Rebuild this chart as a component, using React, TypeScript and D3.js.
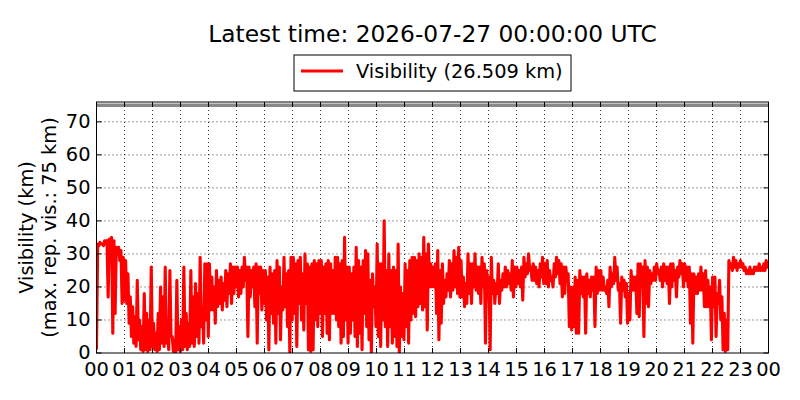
import * as d3 from 'd3';

// ── Data (5-min slots as [high, low] pairs) ──
const titleText = 'Latest time: 2026-07-27 00:00:00 UTC';
const legendText = 'Visibility (26.509 km)';
const yLabelLines = ['Visibility (km)', '(max. rep. vis.: 75 km)'];
const hourLabels = ['00','01','02','03','04','05','06','07','08','09','10','11','12',
  '13','14','15','16','17','18','19','20','21','22','23','00'];
const yTicks = [0, 10, 20, 30, 40, 50, 60, 70];
const maxReportedVis = 75;
const firstValue = 1;
const lastValue = 26.509;

const visibility: number[] = [
  // 00
  33,32.5, 33.5,33, 33,32.5, 34,33, 34,17, 34.5,33.5, 35,6, 34,12, 32,31, 32,28, 31,15, 29,16,
  // 01
  28,15, 24,9, 17,5, 14,3, 11,2, 22,4, 10,1, 8,0.5, 18,1, 12,0.5, 10,1, 26,2,
  // 02
  9,1, 6,0.5, 12,1, 20,3, 17,2, 26,3, 10,1, 25,5, 5,0.5, 4,0, 22,1, 8,0.5,
  // 03
  10,1, 26,2, 12,1, 9,2, 25,3, 17,2, 21,5, 18,3, 29,8, 14,3, 27,10, 27,5,
  // 04
  27,13, 23,13, 20,9, 25,14, 22,15, 23,13, 21,16, 25,14, 24,18, 27,15, 26,18, 26,20,
  // 05
  26,17, 25,18, 26,20, 29,22, 26,5, 26,17, 25,20, 26,14, 27,3, 26,18, 26,13, 25,15,
  // 06
  25,10, 23,1, 26,12, 24,9, 25,3, 28,12, 26,4, 20,13, 29,14, 24,8, 25,0, 29,10,
  // 07
  29,12, 27,2, 28,15, 29,10, 24,7, 30,15, 27,1, 26,0.5, 27,1, 28,10, 27,8, 28,12,
  // 08
  28,5, 26,12, 27,6, 28,4, 27,12, 25,12, 29,10, 29,8, 27,3, 28,5, 35,10, 26,3,
  // 09
  26,6, 24,10, 26,5, 32,2, 28,6, 26,1, 28,12, 31,8, 30,4, 22,0, 24,14, 20,8,
  // 10
  33,5, 27,2, 27,10, 40,8, 25,2, 30,8, 25,3, 26,5, 25,2, 33,0, 20,5, 18,4,
  // 11
  27,8, 25,3, 28,10, 29,12, 29,11, 28,14, 30,15, 29,13, 35,14, 30,7, 33,20, 27,20,
  // 12
  26,20, 27,12, 31,4, 25,9, 27,15, 22,17, 24,19, 28,17, 27,19, 31,20, 29,18, 32,17,
  // 13
  28,17, 23,14, 21,15, 30,18, 27,15, 27,20, 30,19, 26,18, 26,15, 29,20, 27,3, 25,17,
  // 14
  23,1, 29,18, 22,15, 21,18, 27,15, 22,19, 24,20, 26,20, 25,21, 24,19, 28,17, 26,20,
  // 15
  26,21, 25,20, 26,16, 29,23, 27,24, 30,25, 26,22, 27,22, 26,21, 25,20, 27,23, 29,21,
  // 16
  27,21, 28,20, 25,22, 23,20, 27,23, 29,24, 28,21, 27,17, 26,18, 26,22, 24,8, 20,7,
  // 17
  20,8, 23,6, 22,6, 25,18, 23,17, 23,6, 24,18, 22,17, 23,19, 23,8, 26,18, 25,19,
  // 18
  25,19, 23,19, 20,18, 22,14, 26,20, 24,21, 29,22, 26,19, 21,9, 23,19, 22,17, 21,9,
  // 19
  18,10, 25,19, 23,19, 23,12, 27,11, 27,20, 26,5, 28,15, 26,14, 25,21, 24,22, 26,22,
  // 20
  27,24, 25,22, 26,20, 27,22, 26,21, 26,15, 27,20, 27,22, 25,17, 26,23, 28,24, 27,20,
  // 21
  27,22, 26,20, 26,9, 24,3, 24,18, 23,18, 24,19, 26,19, 24,14, 25,14, 22,14, 20,4,
  // 22
  23,14, 23,5, 18,15, 22,10, 17,1, 12,0.5, 10,1, 28,26, 27,25, 29,26, 28,25, 27,26,
  // 23
  28,26, 27,25, 26,24, 25,24, 26,24, 25,24, 26,25, 26,25, 27,25, 26,25, 27,25, 28,26,
];

const series = [firstValue, ...visibility, lastValue];

// ── Layout ──
const W = 800;
const H = 400;
const margin = { top: 102, right: 31.5, bottom: 47, left: 96.5 };
const iw = W - margin.left - margin.right;
const ih = H - margin.top - margin.bottom;
const FONT = '"DejaVu Sans", sans-serif';

export default function App() {
  const x = d3.scaleLinear().domain([0, 24]).range([0, iw]);
  const y = d3.scaleLinear().domain([0, 76]).range([ih, 0]);

  const n = series.length;
  const pts = series.map((v, i) => ({ h: (i * 24) / (n - 1), v }));
  const line = d3.line<{ h: number; v: number }>()
    .x(d => x(d.h))
    .y(d => y(d.v));

  const hourTicks = hourLabels.map((_, i) => i);

  return (
    <svg width={W} height={H} style={{ position: 'absolute', left: 0, top: 0, background: '#fff' }}
      fontFamily={FONT}>
      <rect width={W} height={H} fill="#fff" />
      <text x={margin.left + iw / 2} y={42} textAnchor="middle" fontSize={23.3} fill="#000">
        {titleText}
      </text>

      {/* legend */}
      <rect x={294} y={55} width={277} height={36} fill="#fff" stroke="#000" strokeWidth={1} />
      <line x1={301} x2={343} y1={71} y2={71} stroke="#ff0000" strokeWidth={2.8} />
      <text x={356} y={78} fontSize={19.4} fill="#000">{legendText}</text>

      {/* y label */}
      {yLabelLines.map((t, i) => (
        <text key={t} transform={`translate(${33 + i * 23},${margin.top + ih / 2}) rotate(-90)`}
          textAnchor="middle" fontSize={19.4} fill="#000">{t}</text>
      ))}

      <defs>
        <clipPath id="plot">
          <rect width={iw} height={ih} />
        </clipPath>
      </defs>

      <g transform={`translate(${margin.left},${margin.top})`}>
        {/* grid */}
        {hourTicks.slice(1, -1).map(h => (
          <line key={'gx' + h} x1={x(h)} x2={x(h)} y1={0} y2={ih}
            stroke="#000" strokeWidth={0.8} strokeDasharray="1,3" />
        ))}
        {yTicks.slice(1).map(v => (
          <line key={'gy' + v} x1={0} x2={iw} y1={y(v)} y2={y(v)}
            stroke="#000" strokeWidth={0.8} strokeDasharray="1,3" />
        ))}

        <g clipPath="url(#plot)">
          <line x1={0} x2={iw} y1={y(maxReportedVis)} y2={y(maxReportedVis)}
            stroke="#888" strokeWidth={3.5} />
          <path d={line(pts) ?? ''} fill="none" stroke="#ff0000" strokeWidth={3.1}
            strokeLinejoin="round" />
        </g>

        {/* ticks (inward, all four sides) */}
        {hourTicks.map(h => (
          <g key={'tx' + h}>
            <line x1={x(h)} x2={x(h)} y1={ih} y2={ih - 5} stroke="#000" />
            <line x1={x(h)} x2={x(h)} y1={0} y2={5} stroke="#000" />
            <text x={x(h)} y={ih + 23} textAnchor="middle" fontSize={19.4} fill="#000">
              {hourLabels[h]}
            </text>
          </g>
        ))}
        {yTicks.map(v => (
          <g key={'ty' + v}>
            <line x1={0} x2={5} y1={y(v)} y2={y(v)} stroke="#000" />
            <line x1={iw} x2={iw - 5} y1={y(v)} y2={y(v)} stroke="#000" />
            <text x={-6} y={y(v)} dy="0.33em" textAnchor="end" fontSize={19.4} fill="#000">
              {v}
            </text>
          </g>
        ))}

        <rect width={iw} height={ih} fill="none" stroke="#000" strokeWidth={1} />
      </g>
    </svg>
  );
}
